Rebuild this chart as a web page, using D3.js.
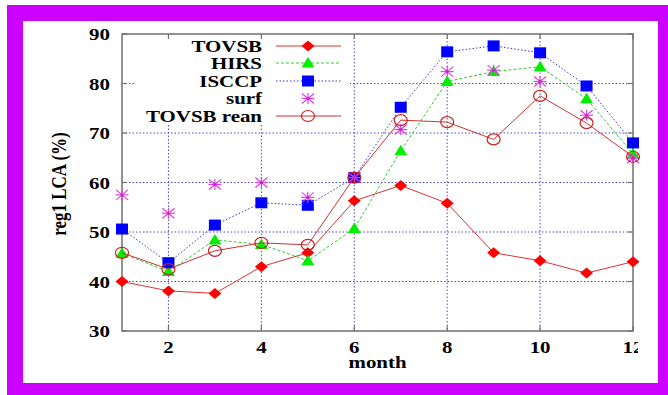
<!DOCTYPE html>
<html><head><meta charset="utf-8">
<script src="https://cdn.jsdelivr.net/npm/d3@7"></script>
<style>body{margin:0;background:#fff}svg{display:block}
text{font-family:"Liberation Serif","DejaVu Serif","Noto Serif",Times,serif;font-weight:bold}</style>
</head><body>
<svg id="c" width="668" height="395"></svg>
<script>
const months = [1,2,3,4,5,6,7,8,9,10,11,12];
const tovsb = [40.0,38.1,37.6,43.0,45.8,56.3,59.4,55.8,45.8,44.2,41.7,44.0];
const hirs = [45.7,42.0,48.4,47.5,44.2,50.7,66.4,80.4,82.4,83.4,76.9,65.8];
const isccp = [50.6,43.8,51.4,55.9,55.4,61.0,75.2,86.4,87.6,86.2,79.5,68.0];
const surf = [57.5,53.8,59.6,60.0,57.0,61.0,70.7,82.4,82.7,80.4,73.6,64.9];
const rean = [45.8,42.5,46.2,47.8,47.4,61.0,72.6,72.2,68.7,77.5,72.0,65.2];
const seriesNames = ["TOVSB","HIRS","ISCCP","surf","TOVSB rean"];
const xTicks = [2,4,6,8,10,12];
const yTicks = [30,40,50,60,70,80,90];

const svg = d3.select("#c");
const SX = 1.23; // horizontal stretch of the original figure
// purple frame
svg.append("rect").attr("x",7).attr("y",5).attr("width",661).attr("height",390).attr("fill","#cc00ff");
svg.append("rect").attr("x",23).attr("y",21).attr("width",635).attr("height",362).attr("fill","#fff");

const L=122,R=633,T=34,B=331;
const x = d3.scaleLinear().domain([1,12]).range([L,R]);
const y = d3.scaleLinear().domain([30,90]).range([B,T]);

const defs = svg.append("defs");
defs.append("clipPath").attr("id","fig").append("rect").attr("x",0).attr("y",0).attr("width",638).attr("height",395);
const g = svg.append("g");

function txt(parent, px, py, s, anchor, size){
  return parent.append("text").attr("transform",`translate(${px},${py}) scale(${SX},1)`)
    .attr("text-anchor",anchor).attr("font-size",size).text(s);
}

const gridCol="#4a4acc";
// grid
g.append("g").selectAll("line").data([40,50,60,70,80]).join("line")
  .attr("x1",L).attr("x2",R).attr("y1",d=>y(d)).attr("y2",d=>y(d))
  .attr("stroke",gridCol).attr("stroke-width",1).attr("stroke-dasharray","1.5,2");
g.append("g").selectAll("line").data([2,4,6,8,10]).join("line")
  .attr("y1",T).attr("y2",B).attr("x1",d=>x(d)).attr("x2",d=>x(d))
  .attr("stroke",gridCol).attr("stroke-width",1).attr("stroke-dasharray","1.5,2");

// legend background
g.append("rect").attr("x",136).attr("y",T+1).attr("width",214).attr("height",89).attr("fill","#fff");

// frame + ticks
const frameCol="#707070";
g.append("rect").attr("x",L).attr("y",T).attr("width",R-L).attr("height",B-T)
  .attr("fill","none").attr("stroke",frameCol).attr("stroke-width",1.5);
const tk=g.append("g").attr("stroke",frameCol).attr("stroke-width",1.2);
xTicks.forEach(v=>{
  tk.append("line").attr("x1",x(v)).attr("x2",x(v)).attr("y1",B).attr("y2",B-5);
  tk.append("line").attr("x1",x(v)).attr("x2",x(v)).attr("y1",T).attr("y2",T+5);
});
yTicks.forEach(v=>{
  tk.append("line").attr("x1",L).attr("x2",L+5).attr("y1",y(v)).attr("y2",y(v));
  tk.append("line").attr("x1",R).attr("x2",R-5).attr("y1",y(v)).attr("y2",y(v));
});

// tick labels
yTicks.forEach(v=>txt(g,110,y(v)+6,v,"end",17));
const gx = g.append("g").attr("clip-path","url(#fig)");
xTicks.forEach(v=>txt(gx,x(v),352.5,v,"middle",17));
txt(g,(L+R)/2,368,"month","middle",17);
g.append("text").attr("transform",`translate(66,184) scale(${SX},1) rotate(-90)`).attr("text-anchor","middle")
  .attr("font-size",17).text("reg1 LCA (%)");

// markers
function marker(sel, type){
  if(type==="diamond") sel.append("path").attr("d","M-6.5,0L0,-5.5L6.5,0L0,5.5Z").attr("fill","#ff0000");
  if(type==="tri") sel.append("path").attr("d","M-6.5,4.5L0,-6L6.5,4.5Z").attr("fill","#00ee00");
  if(type==="square") sel.append("rect").attr("x",-6).attr("y",-5.5).attr("width",12).attr("height",11).attr("fill","#0000ff");
  if(type==="star"){
    const s=sel.append("g").attr("stroke","#dd44dd").attr("stroke-width",1.2);
    s.append("line").attr("x1",-6.5).attr("x2",6.5).attr("y1",0).attr("y2",0);
    s.append("line").attr("x1",0).attr("x2",0).attr("y1",-5.5).attr("y2",5.5);
    s.append("line").attr("x1",-6).attr("x2",6).attr("y1",-5).attr("y2",5);
    s.append("line").attr("x1",-6).attr("x2",6).attr("y1",5).attr("y2",-5);
    sel.append("circle").attr("r",1.5).attr("fill","#cc22cc");
  }
  if(type==="circle") sel.append("ellipse").attr("rx",6.5).attr("ry",5.5).attr("fill","none").attr("stroke","#cc2222").attr("stroke-width",1.2);
}
const series = [
  {name:seriesNames[0], vals:tovsb, col:"#dd3333", dash:null, m:"diamond", line:true},
  {name:seriesNames[1], vals:hirs, col:"#33cc33", dash:"3,2", m:"tri", line:true},
  {name:seriesNames[2], vals:isccp, col:"#3333cc", dash:"1.5,2", m:"square", line:true},
  {name:seriesNames[3], vals:surf, col:"#dd44dd", dash:null, m:"star", line:false},
  {name:seriesNames[4], vals:rean, col:"#cc3333", dash:null, m:"circle", line:true}
];
const lineGen = d3.line().x((d,i)=>x(months[i])).y(d=>y(d));
const legY=[46,63,81,98.5,116];
series.forEach((s,k)=>{
  if(s.line){
    g.append("path").attr("d",lineGen(s.vals)).attr("fill","none").attr("stroke",s.col)
      .attr("stroke-width",1).attr("stroke-dasharray",s.dash);
    g.append("line").attr("x1",276).attr("x2",341).attr("y1",legY[k]).attr("y2",legY[k])
      .attr("stroke",s.col).attr("stroke-width",1).attr("stroke-dasharray",s.dash);
  }
  s.vals.forEach((v,i)=>{
    marker(g.append("g").attr("transform",`translate(${x(months[i])},${y(v)})`), s.m);
  });
  marker(g.append("g").attr("transform",`translate(308,${legY[k]})`), s.m);
  txt(g,262,legY[k]+5.5,s.name,"end",17);
});
</script>
</body></html>
